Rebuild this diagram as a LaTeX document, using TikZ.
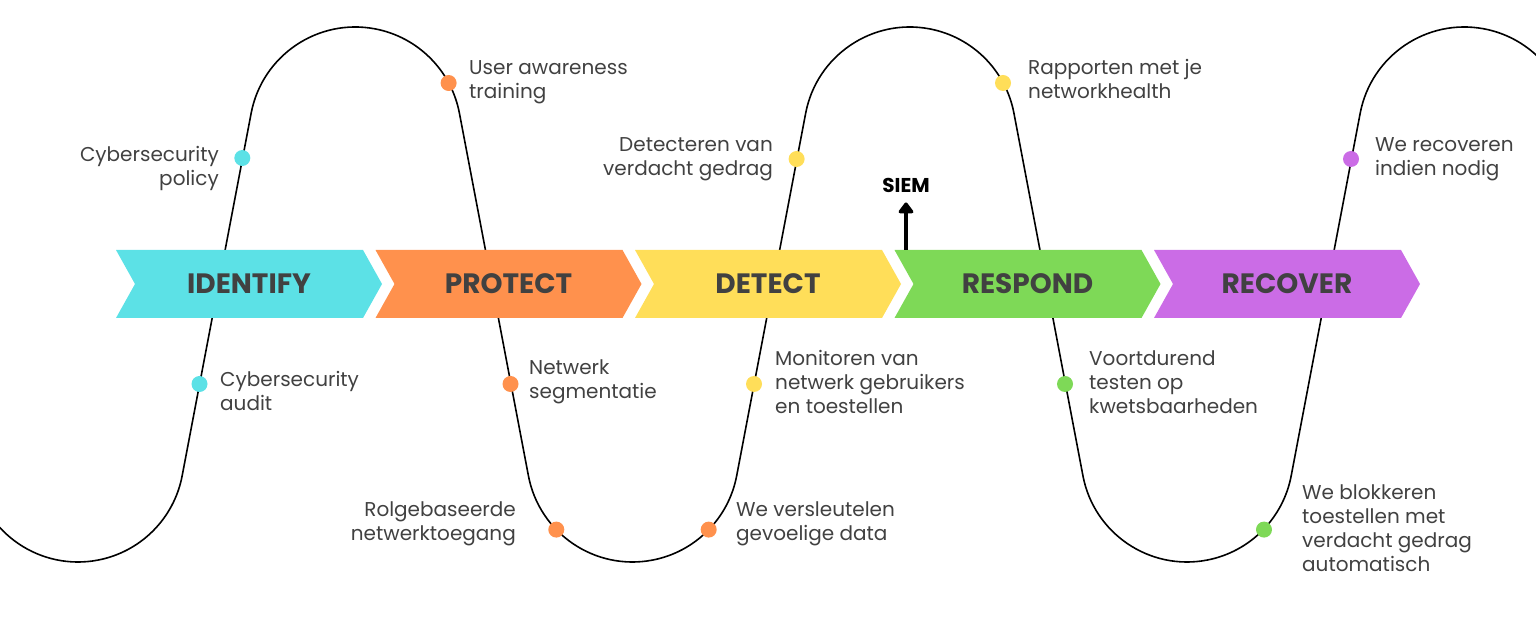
\documentclass[tikz,border=0pt]{standalone}
\usepackage{fontspec}
\setmainfont{Poppins}
\usetikzlibrary{arrows.meta,positioning}

\definecolor{cidentify}{HTML}{5CE1E6}
\definecolor{cprotect}{HTML}{FF914D}
\definecolor{cdetect}{HTML}{FFDE59}
\definecolor{crespond}{HTML}{7ED957}
\definecolor{crecover}{HTML}{CB6CE6}
\definecolor{ink}{HTML}{414141}

\tikzset{
  wave/.style={line width=1.6pt},
  spot/.style={circle, inner sep=0pt, minimum size=16pt},
  phase/.style={font=\fontsize{28}{30}\selectfont\bfseries, text=ink, inner sep=0pt},
  note/.style={font=\fontsize{20}{24}\selectfont, text=ink, inner sep=0pt},
}

\begin{document}
\begin{tikzpicture}[x=1pt,y=1pt]
\useasboundingbox (0,0) rectangle (1536,618);

% the wave behind the arrows
\begin{scope}
\clip (0,0) rectangle (1536,618);
\draw[wave] (-26.1,142.2)
  \foreach \k in {1,2,3} {
    arc[start angle=190.77, end angle=349.23, radius=106] -- ++(69,362.6)
    arc[start angle=169.23, end angle=10.77, radius=106] -- ++(69,-362.6)
  };
\end{scope}

% phases
\foreach \nm/\lbl/\col [count=\i from 0] in {identify/IDENTIFY/cidentify,
    protect/PROTECT/cprotect, detect/DETECT/cdetect,
    respond/RESPOND/crespond, recover/RECOVER/crecover}{
  \fill[\col] (116+259.5*\i,368) -- ++(247,0) -- ++(19,-34) -- ++(-19,-34)
    -- ++(-247,0) -- ++(19,34) -- cycle;
  \node[phase] (\nm) at (249+259.5*\i,334) {\lbl};
}

% dots on the wave
\node[spot, fill=cidentify] (policydot) at (242.3,460) {};
\node[spot, fill=cidentify] (auditdot) at (199.5,234) {};
\node[spot, fill=cprotect] (trainingdot) at (448.6,535) {};
\node[spot, fill=cprotect] (segmentdot) at (510.5,234) {};
\node[spot, fill=cprotect] (roledot) at (556.3,88.4) {};
\node[spot, fill=cprotect] (cryptdot) at (708.7,88.4) {};
\node[spot, fill=cdetect] (behaviourdot) at (796.6,459) {};
\node[spot, fill=cdetect] (monitordot) at (754,234) {};
\node[spot, fill=cdetect] (reportdot) at (1003,535) {};
\node[spot, fill=crespond] (testdot) at (1065,234) {};
\node[spot, fill=crespond] (blockdot) at (1264,88.4) {};
\node[spot, fill=crecover] (recoverdot) at (1351,459) {};

% texts (base = last line)
\node[note, align=right, anchor=base east] (policy) at (219,432) {Cybersecurity\\policy};
\node[note, align=left, anchor=base west] (audit) at (220,207) {Cybersecurity\\audit};
\node[note, align=left, anchor=base west] (training) at (469,519) {User awareness\\training};
\node[note, align=left, anchor=base west] (segment) at (529,219) {Netwerk\\segmentatie};
\node[note, align=right, anchor=base east] (role) at (516,77) {Rolgebaseerde\\netwerktoegang};
\node[note, align=left, anchor=base west] (crypt) at (736,77) {We versleutelen\\gevoelige data};
\node[note, align=right, anchor=base east] (behaviour) at (773,442) {Detecteren van\\verdacht gedrag};
\node[note, align=left, anchor=base west] (monitor) at (775,204) {Monitoren van\\netwerk gebruikers\\en toestellen};
\node[note, align=left, anchor=base west] (report) at (1028,519) {Rapporten met je\\networkhealth};
\node[note, align=left, anchor=base west] (test) at (1089,204) {Voortdurend\\testen op\\kwetsbaarheden};
\node[note, align=left, anchor=base west] (block) at (1302,46) {We blokkeren\\toestellen met\\verdacht gedrag\\automatisch};
\node[note, align=left, anchor=base west] (recovertxt) at (1375,442) {We recoveren\\indien nodig};

% SIEM
\coordinate (siembase) at (906,368);
\node[font=\fontsize{20}{24}\selectfont\bfseries, inner sep=0pt] (siem) at (906,433) {SIEM};
\draw[-{Triangle[round,width=17pt,length=12pt]}, line width=4pt, shorten >=10pt] (siembase) -- (siem.south);

\end{tikzpicture}
\end{document}
